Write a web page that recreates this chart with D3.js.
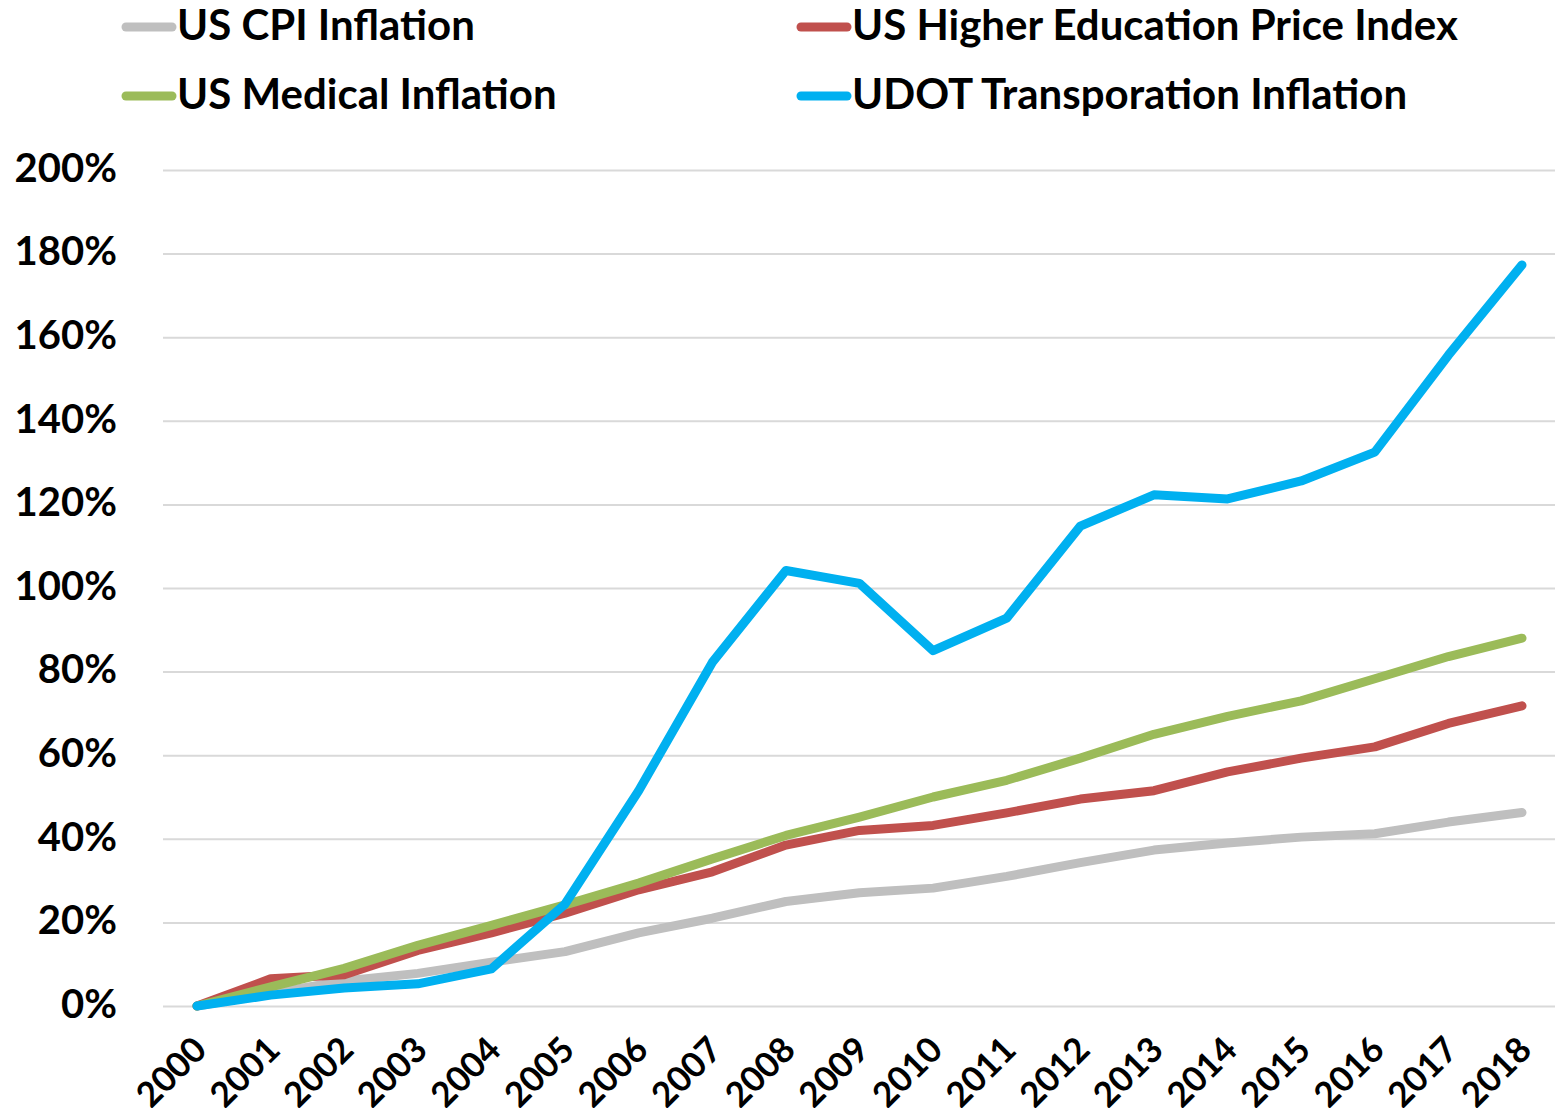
<!DOCTYPE html>
<html lang="en">
  <head>
    <meta charset="UTF-8" />
    <title>Inflation comparison</title>
    <script src="https://d3js.org/d3.v7.min.js"></script>
    <style>
      body {
        margin: 0;
        padding: 0;
        background: #fff;
      }
      svg {
        display: block;
      }
      text {
        font-family: Lato, "Open Sans", sans-serif;
        font-weight: bold;
        fill: #000;
      }
      .axis text {
        font-size: 40px;
      }
      .x-axis text {
        font-size: 35px;
      }
      .legend text {
        font-size: 42px;
      }
    </style>
  </head>
  <body>
    <svg width="1555" height="1108"></svg>
    <script>
      const width = 1555,
        height = 1108;
      const svg = d3.select("svg");

      const years = [
        2000, 2001, 2002, 2003, 2004, 2005, 2006, 2007, 2008, 2009, 2010, 2011,
        2012, 2013, 2014, 2015, 2016, 2017, 2018,
      ];
      const yTicks = [0, 20, 40, 60, 80, 100, 120, 140, 160, 180, 200];

      const cpi = [
        0, 3, 6, 7.8, 10.5, 13, 17.5, 21, 25, 27.1, 28.2, 31, 34.3, 37.3, 39,
        40.4, 41.2, 44, 46.3,
      ];
      const hepi = [
        0, 6.5, 7.5, 13.3, 17.5, 22.2, 27.8, 32.1, 38.5, 42, 43.2, 46.2, 49.5,
        51.5, 56, 59.3, 62, 67.6, 71.8,
      ];
      const medical = [
        0, 4.6, 9, 14.5, 19.3, 24.2, 29.4, 35.2, 40.8, 45.2, 50, 54, 59.3, 65,
        69.3, 73, 78.3, 83.6, 88,
      ];
      const udot = [
        0, 2.6, 4.3, 5.3, 8.9, 24.4, 51.5, 82.2, 104.2, 101.1, 85, 92.8, 114.8,
        122.3, 121.3, 125.6, 132.5, 155.7, 177.3,
      ];

      const series = [
        { name: "US CPI Inflation", values: cpi, color: "#bfbfbf" },
        { name: "US Higher Education Price Index", values: hepi, color: "#c0504d" },
        { name: "US Medical Inflation", values: medical, color: "#9bbb59" },
        { name: "UDOT Transporation Inflation", values: udot, color: "#00b0f0" },
      ];

      const left = 163;
      const xScale = d3.scalePoint().domain(years).range([197, 1522]);
      const yScale = d3.scaleLinear().domain([0, 200]).range([1006, 170]);

      // y axis + gridlines
      const yAxis = svg
        .append("g")
        .attr("class", "axis")
        .attr("transform", `translate(${left},0)`)
        .call(
          d3
            .axisLeft(yScale)
            .tickValues(yTicks)
            .tickSize(-(width - left))
            .tickPadding(46)
            .tickFormat((d) => d + "%")
        );
      yAxis.select(".domain").remove();
      yAxis.selectAll("line").attr("stroke", "#d9d9d9").attr("stroke-width", 2);
      yAxis.selectAll("text").attr("dy", "0.28em");

      // x axis labels
      const xAxis = svg
        .append("g")
        .attr("class", "axis x-axis")
        .attr("transform", `translate(0,${yScale(0)})`)
        .call(d3.axisBottom(xScale).tickSize(0).tickFormat(d3.format("d")));
      xAxis.select(".domain").remove();
      xAxis
        .selectAll("text")
        .attr("x", 0)
        .attr("y", 0)
        .attr("dy", 0)
        .attr("text-anchor", "end")
        .attr("transform", "translate(11,46) rotate(-45)");

      // lines
      const line = d3
        .line()
        .x((d, i) => xScale(years[i]))
        .y((d) => yScale(d));

      svg
        .append("g")
        .selectAll("path")
        .data(series)
        .join("path")
        .attr("d", (d) => line(d.values))
        .attr("fill", "none")
        .attr("stroke", (d) => d.color)
        .attr("stroke-width", 9)
        .attr("stroke-linejoin", "round")
        .attr("stroke-linecap", "round");

      // legend
      const legendPos = [
        [122, 27],
        [797, 27],
        [122, 96],
        [797, 96],
      ];
      const legend = svg
        .append("g")
        .attr("class", "legend")
        .selectAll("g")
        .data(series)
        .join("g")
        .attr("transform", (d, i) => `translate(${legendPos[i][0]},${legendPos[i][1]})`);
      legend
        .append("line")
        .attr("x1", 4)
        .attr("x2", 50)
        .attr("stroke", (d) => d.color)
        .attr("stroke-width", 9)
        .attr("stroke-linecap", "round");
      legend
        .append("text")
        .attr("x", 55)
        .attr("y", 13)
        .text((d) => d.name);
    </script>
  </body>
</html>
